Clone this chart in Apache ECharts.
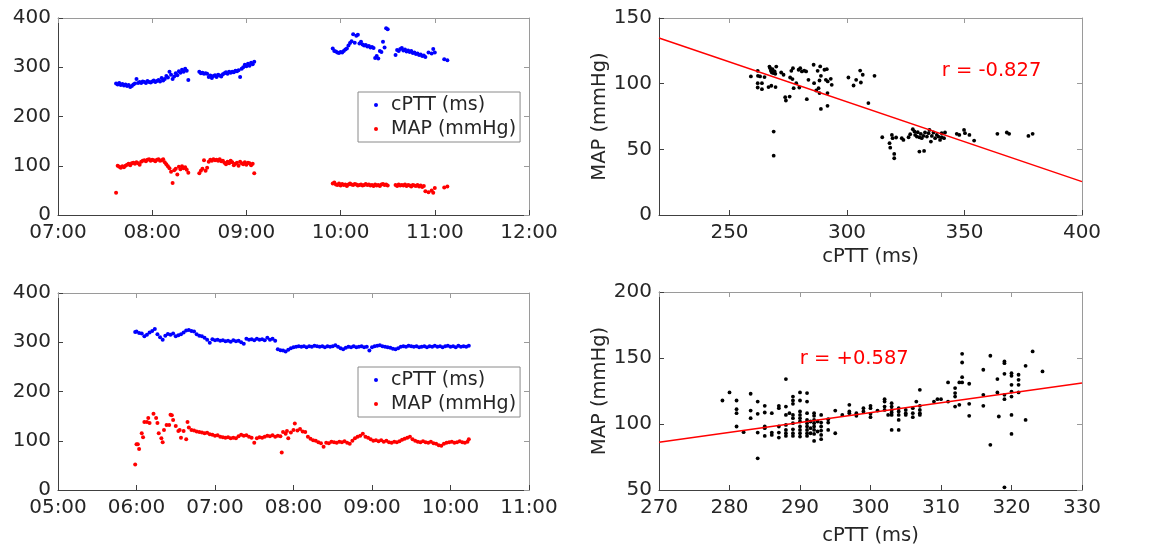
<!DOCTYPE html>
<html>
<head>
<meta charset="utf-8">
<script src="https://cdn.jsdelivr.net/npm/echarts@6/dist/echarts.min.js"></script>
<style>html,body{margin:0;padding:0;background:#fff;}#c{width:1166px;height:550px;}</style>
</head>
<body>
<div id="c"></div>
<script>
// ---------------- DATA ----------------
// Top-left panel: [time, cPTT (ms), MAP (mmHg)]
const tlSamples = [
 ['07:37',267,45],['07:38',265,100],['07:39',268,98],['07:40',264,96],['07:41',266,99],['07:42',263,97],
 ['07:43',265,100],['07:44',262,102],['07:45',264,104],['07:46',260,101],['07:47',262,105],['07:48',265,106],
 ['07:49',267,104],['07:50',276,107],['07:51',268,105],['07:52',270,102],['07:53',268,108],['07:54',271,110],
 ['07:55',270,111],['07:56',268,109],['07:57',272,112],['07:58',270,113],['07:59',269,110],['08:00',271,112],
 ['08:01',273,111],['08:02',270,109],['08:03',272,112],['08:04',274,113],['08:05',271,110],['08:06',278,111],
 ['08:07',273,113],['08:08',276,107],['08:09',282,103],['08:10',279,99],['08:11',291,95],['08:12',285,88],
 ['08:13',276,65],['08:14',281,91],['08:15',288,94],['08:16',284,82],['08:17',292,98],['08:18',289,93],
 ['08:19',295,99],['08:20',291,95],['08:21',297,97],['08:22',293,92],['08:23',274,86],
 ['08:30',291,85],['08:31',288,90],['08:32',289,94],['08:33',287,111],['08:34',288,90],['08:35',287,96],
 ['08:36',280,108],['08:37',283,112],['08:38',278,110],['08:39',282,113],['08:40',284,111],['08:41',280,112],
 ['08:42',285,110],['08:43',283,113],['08:44',281,109],['08:45',286,110],['08:46',288,106],['08:47',290,103],
 ['08:48',287,108],['08:49',291,105],['08:50',289,110],['08:51',291,107],['08:52',290,101],['08:53',293,104],
 ['08:54',292,106],['08:55',294,100],['08:56',280,108],['08:57',297,105],['08:58',300,103],['08:59',305,107],
 ['09:00',302,102],['09:01',307,106],['09:02',303,105],['09:03',309,101],['09:04',306,104],['09:05',311,85],
 ['09:55',338,64],['09:56',333,66],['09:57',332,62],['09:58',330,61],['09:59',329,64],['10:00',331,60],
 ['10:01',330,63],['10:02',333,61],['10:03',336,62],['10:04',338,59],['10:05',344,62],['10:06',349,64],
 ['10:07',353,62],['10:08',367,61],['10:09',350,63],['10:10',364,62],['10:11',366,60],['10:12',348,61],
 ['10:13',352,62],['10:14',346,60],['10:15',344,61],['10:16',345,63],['10:17',342,61],['10:18',343,62],
 ['10:19',340,60],['10:20',341,61],['10:21',339,59],['10:22',319,62],['10:23',323,60],['10:24',318,61],
 ['10:25',333,59],['10:26',331,62],['10:27',352,63],['10:28',340,61],['10:29',379,62],['10:30',377,60],
 ['10:35',325,61],['10:36',335,59],['10:37',333,62],['10:38',337,60],['10:39',339,61],['10:40',334,60],
 ['10:41',336,62],['10:42',332,59],['10:43',334,61],['10:44',331,60],['10:45',333,58],['10:46',329,61],
 ['10:47',330,60],['10:48',327,59],['10:49',328,61],['10:50',325,58],['10:51',326,60],['10:52',323,57],
 ['10:53',324,59],['10:54',321,48],['10:56',330,46],['10:58',328,50],['10:59',337,45],['11:00',330,55],
 ['11:06',316,56],['11:08',314,58]
];

// Bottom-left panel: cPTT [time, ms]
const blCptt = [
 ['05:59',321],['06:00',322],['06:02',319],['06:04',318],['06:06',312],['06:08',315],['06:10',320],['06:12',323],
 ['06:14',327],['06:16',316],['06:18',310],['06:20',305],['06:22',313],['06:24',317],['06:26',315],['06:28',318],
 ['06:30',312],['06:32',314],['06:34',316],['06:36',320],['06:38',324],['06:40',325],['06:42',323],['06:44',322],
 ['06:46',316],['06:48',313],['06:50',312],['06:52',309],['06:54',305],['06:56',299],['06:58',306],['07:00',304],
 ['07:02',305],['07:04',303],['07:06',304],['07:08',302],['07:10',303],['07:12',301],['07:14',304],['07:16',302],
 ['07:18',303],['07:20',300],['07:22',297],['07:24',307],['07:26',305],['07:28',306],['07:30',304],['07:32',307],
 ['07:34',305],['07:36',306],['07:38',304],['07:40',309],['07:42',305],['07:44',307],['07:46',303],['07:48',286],
 ['07:50',284],['07:52',283],['07:54',281],['07:56',285],['07:58',288],['08:00',290],['08:02',291],['08:04',292],
 ['08:06',291],['08:08',292],['08:10',290],['08:12',292],['08:14',291],['08:16',293],['08:18',292],['08:20',291],
 ['08:22',292],['08:24',290],['08:26',292],['08:28',291],['08:30',292],['08:32',294],['08:34',291],['08:36',288],
 ['08:38',286],['08:40',289],['08:42',291],['08:44',290],['08:46',292],['08:48',290],['08:50',291],['08:52',292],
 ['08:54',290],['08:56',291],['08:58',283],['09:00',290],['09:02',292],['09:04',293],['09:06',294],['09:08',292],
 ['09:10',291],['09:12',290],['09:14',289],['09:16',287],['09:18',286],['09:20',288],['09:22',291],['09:24',292],
 ['09:26',291],['09:28',293],['09:30',292],['09:32',291],['09:34',292],['09:36',290],['09:38',291],['09:40',292],
 ['09:42',290],['09:44',292],['09:46',291],['09:48',293],['09:50',291],['09:52',292],['09:54',290],['09:56',292],
 ['09:58',293],['10:00',291],['10:02',292],['10:04',290],['10:06',293],['10:08',291],['10:10',292],['10:12',291],
 ['10:14',293]
];
// Bottom-left panel: MAP [time, mmHg]
const blMap = [
 ['05:59',52],['06:00',93],['06:01',93],['06:02',83],['06:04',115],['06:05',107],['06:06',138],['06:08',138],
 ['06:09',146],['06:10',136],['06:13',155],['06:15',146],['06:16',136],['06:17',115],['06:19',105],['06:20',97],
 ['06:21',122],['06:23',132],['06:25',132],['06:26',153],['06:27',152],['06:28',142],['06:30',130],['06:32',120],
 ['06:33',122],['06:34',106],['06:36',120],['06:38',103],['06:39',138],['06:40',127],['06:42',122],['06:44',121],
 ['06:46',119],['06:48',118],['06:50',117],['06:52',115],['06:54',116],['06:56',113],['06:58',112],['07:00',110],
 ['07:02',111],['07:04',108],['07:06',107],['07:08',106],['07:10',107],['07:12',105],['07:14',106],['07:16',105],
 ['07:18',109],['07:20',112],['07:22',110],['07:24',111],['07:26',108],['07:28',106],['07:30',96],['07:32',105],
 ['07:34',107],['07:36',106],['07:38',108],['07:40',110],['07:42',109],['07:44',111],['07:46',108],['07:48',110],
 ['07:50',109],['07:51',76],['07:52',118],['07:54',114],['07:55',120],['07:56',105],['07:58',117],['08:00',122],
 ['08:01',135],['08:03',121],['08:05',124],['08:07',119],['08:09',118],['08:11',108],['08:13',104],['08:15',101],
 ['08:17',100],['08:19',97],['08:21',95],['08:23',88],['08:25',96],['08:27',95],['08:29',98],['08:31',97],
 ['08:33',96],['08:35',98],['08:37',97],['08:39',99],['08:41',96],['08:43',94],['08:45',100],['08:47',105],
 ['08:49',108],['08:51',110],['08:53',114],['08:55',108],['08:57',106],['08:59',103],['09:01',100],['09:03',101],
 ['09:05',99],['09:07',101],['09:09',98],['09:11',100],['09:13',97],['09:15',96],['09:17',98],['09:19',97],
 ['09:21',99],['09:23',102],['09:25',104],['09:27',106],['09:29',108],['09:31',103],['09:33',100],['09:35',98],
 ['09:37',97],['09:39',99],['09:41',97],['09:43',96],['09:45',98],['09:47',95],['09:49',94],['09:51',91],
 ['09:53',90],['09:55',94],['09:57',96],['09:59',97],['10:01',98],['10:03',96],['10:05',97],['10:07',99],
 ['10:09',97],['10:11',96],['10:13',98],['10:14',103]
];

// Top-right scatter: [cPTT, MAP]
const trPoints = [
 [259.1,105.5],[262,109.8],[262.1,106],[262,100.4],[262,97.1],[263.8,100.4],[263.8,95.8],[263,105.5],[264.9,105],
 [266.6,97.4],[267,113],[267.3,111.8],[267.6,109.8],[268,108.5],[268.3,111],[268.8,108],[269.2,109.3],[269.5,107.5],
 [267.8,98.4],[269.6,97.4],[268.8,63.5],[268.8,45.2],[269.9,113],[272,108.5],[273,106.8],[273.7,89.7],[274,87.2],
 [275.6,90.2],[275.8,104.7],[276.3,109.8],[277,111.8],[276.8,103.5],[277.3,96.6],[278.4,100.4],[279.4,110.6],
 [279.7,97.1],[280.1,111.8],[280.8,109.3],[281.8,110],[282.6,109.3],[282.9,88.2],[283.6,102.9],[285.8,114.4],
 [286,100.4],[286.9,94.8],[287.5,109.8],[287.9,96.6],[288.3,102.4],[288.6,113.1],[288.9,106],[288.3,92.8],
 [288.9,80.8],[290.4,110.6],[291,102.9],[291.4,111],[291.8,101.7],[291.7,92.8],[291.7,83.1],[293.1,103.7],
 [293.5,99.1],[300.6,104.7],[302.8,98.6],[303.9,102.9],[305.6,110],[305.9,100.9],[306.7,106.8],[309.1,85.2],
 [311.7,106],
 [315,59.2],[318.1,54.7],[318.4,51.3],[319.1,61],[319.4,58.5],[320.1,46.5],[320.1,43.2],[320.9,59],[323.3,58.5],
 [324,57.2],[326.2,59.2],[326.9,61.5],[328,65.3],[328.7,63.6],[329,61],[329.7,59.7],[330.1,63],[330.8,59.2],
 [330.8,48.3],[331.4,61.8],[331.8,58.5],[332.5,60.2],[332.8,48.8],[333.2,62.8],[334,59.7],[334.7,62.3],
 [335.1,64.8],[335.7,55.9],[336.1,60.2],[336.8,62.8],[337.5,58.5],[338.2,61],[338.9,59.7],[339.6,57.2],
 [340.3,62.3],[340.3,59.2],[341.3,58.5],[341.7,62.8],[346.7,61.8],[347.8,61],[349.8,64.8],[350.2,62.3],
 [352.1,61],[354.1,56.7],[364,61.8],[368,62.8],[369,61.8],[377.2,60.2],[379,61.8]
];
const trFit = [[220,134.8],[400,25.4]];
const trR = {text:'r = -0.827', at:[361.5,109.5]};

// Bottom-right scatter: [cPTT, MAP]
const brPoints = [
 [279,117.8],[280,123.9],[281,117.8],[281,111.2],[281,108.2],[281,98.1],[282,93.8],[283,122.9],[283,110.2],
 [283,104.4],[284,117],[284,107.7],[284,93.5],[284,74],[285,113.8],[285,108.7],[285,98.1],[285,96.8],[285,91],
 [286,108.2],[286,93.5],[286,91.7],[287,113.8],[287,112],[287,98.1],[287,93.5],[287,89.7],[288,134],[288,113.2],
 [288,106.9],[288,99.3],[288,95.5],[288,93],[288,91],[288.5,108.2],[289,120.8],[289,117.8],[289,115.3],[289,106.9],
 [289,104.4],[289,100.6],[289,96],[289,93],[289,91],[290,123.9],[290,117.8],[290,109.5],[290,106.9],[290,104.4],
 [290,101.9],[290,98.1],[290,95.5],[290,93],[290,90.5],[291,123.4],[291,117],[291,108.2],[291,103.1],[291,100.6],
 [291,98.1],[291,95.5],[291,93],[291,91],[291.5,101.9],[291.5,96.8],[291.5,93],[292,108.2],[292,106.2],[292,103.1],
 [292,100.6],[292,98.1],[292,95.5],[292,92.5],[292,87.2],[292.5,101.9],[292.5,94.3],[293,106.9],[293,101.1],
 [293,98.1],[293,95],[293,91.7],[293,88.5],[294,103.6],[294,101.1],[294,95.5],[295,110.2],[295,93],[296,106.9],
 [297,114.5],[297,109.5],[297,108.2],[298,108.2],[298,106.2],[299,112],[299,109.5],[300,113.8],[300,112],
 [300,107.7],[300,105.2],[301,110.2],[302,118.8],[302,117],[302,113.2],[302,110.7],[302.5,106.9],[303,115.8],
 [303,113.2],[303,110.7],[303,108.7],[303,106.9],[303,95.5],[304,112],[304,109.5],[304,106.9],[304,103.1],
 [304,95.5],[305,110.7],[305,108.2],[305,106.9],[306,112],[306,108.2],[306,105.2],[306.5,117],[307,125.9],
 [307,113.8],[307,110.7],[307,108.2],[307,106.9],[309,117],[309.5,118.8],[310,118.8],[311,131.5],[311,117],
 [312,127.2],[312,123.4],[312,120.8],[312,113.2],[312.6,131.5],[312.6,114.5],[313,153.2],[313,146.6],[313,135.5],
 [313,131.5],[314,130.5],[314,115.3],[314,106.2],[316,141.1],[316,122.1],[316,113.8],[317,151.7],[317,84.2],
 [318,134],[318,123.9],[318.2,105.7],[319,147.4],[319,146.1],[319,138],[319,122.1],[319,118.8],[319,52],
 [320,138.5],[320,136.5],[320,129.7],[320,124.6],[320,120.8],[320,106.9],[320,92.5],[321,137.3],[321,133.5],
 [321,129.7],[321,123.9],[322,144.1],[322,103.1],[323,155],[324.4,139.8]
];
const brFit = [[270,86.2],[330,131]];
const brR = {text:'r = +0.587', at:[297.7,149.2]};

const seriesNames = ['cPTT (ms)', 'MAP (mmHg)'];
const xLabelCPTT = 'cPTT (ms)';
const yLabelMAP = 'MAP (mmHg)';
const trTicks = [250, 300, 350, 400];

// ---------------- CHART ----------------
const FONT = 'DejaVu Sans';
const TXT = '#262626';
const toMin = s => { const p = s.split(':'); return (+p[0]) * 60 + (+p[1]); };
const hhmm = v => String(Math.floor(v / 60)).padStart(2, '0') + ':' + String(v % 60).padStart(2, '0');

const grids = [
  {left: 58, top: 18, width: 471, height: 197},
  {left: 659, top: 18, width: 423, height: 197},
  {left: 58, top: 293, width: 471, height: 197},
  {left: 659, top: 292, width: 423, height: 198}
];

function axisPair(kind, gridIndex, min, max, interval, formatter, name, nameGap) {
  const main = {
    gridIndex, type: 'value', min, max, interval,
    position: kind === 'x' ? 'bottom' : 'left',
    axisLine: {show: true, onZero: false, lineStyle: {color: '#404040', width: 1}},
    axisTick: {show: true, inside: true, length: 5, lineStyle: {color: '#404040'}},
    axisLabel: {show: true, color: TXT, fontSize: 20, fontFamily: FONT, margin: kind === 'x' ? 8 : 7,
      formatter: formatter, showMinLabel: true, showMaxLabel: true, hideOverlap: false},
    splitLine: {show: false}
  };
  if (name) {
    main.name = name;
    main.nameLocation = 'middle';
    main.nameGap = nameGap;
    main.nameTextStyle = {color: TXT, fontSize: 19.5, fontFamily: FONT};
  }
  const sec = {
    gridIndex, type: 'value', min, max, interval,
    position: kind === 'x' ? 'top' : 'right',
    axisLine: {show: true, onZero: false, lineStyle: {color: '#9a9a9a', width: 1}},
    axisTick: {show: true, inside: true, length: 5, lineStyle: {color: '#9a9a9a'}},
    axisLabel: {show: false},
    splitLine: {show: false}
  };
  return [main, sec];
}

const xAxes = [].concat(
  axisPair('x', 0, 420, 720, 60, hhmm),
  axisPair('x', 1, 220, 400, 50, null, xLabelCPTT, 32),
  axisPair('x', 2, 300, 660, 60, hhmm),
  axisPair('x', 3, 270, 330, 10, null, xLabelCPTT, 36)
);
const yAxes = [].concat(
  axisPair('y', 0, 0, 400, 100),
  axisPair('y', 1, 0, 150, 50, null, yLabelMAP, 42),
  axisPair('y', 2, 0, 400, 100),
  axisPair('y', 3, 50, 200, 50, null, yLabelMAP, 42)
);

// Top-right x axis: min 220 is not a multiple of 50, so give the ticks explicitly
[2, 3].forEach(i => {
  delete xAxes[i].interval;
  xAxes[i].axisTick.customValues = trTicks;
  if (xAxes[i].axisLabel.show) xAxes[i].axisLabel.customValues = trTicks;
});

const dot = 4;
const solid = c => ({color: c, opacity: 1});
const series = [
  {name: seriesNames[0], type: 'scatter', xAxisIndex: 0, yAxisIndex: 0, symbolSize: dot,
   itemStyle: solid('#0000ff'), data: tlSamples.map(r => [toMin(r[0]), r[1]])},
  {name: seriesNames[1], type: 'scatter', xAxisIndex: 0, yAxisIndex: 0, symbolSize: dot,
   itemStyle: solid('#ff0000'), data: tlSamples.map(r => [toMin(r[0]), r[2]])},
  {name: seriesNames[0], type: 'scatter', xAxisIndex: 4, yAxisIndex: 4, symbolSize: dot,
   itemStyle: solid('#0000ff'), data: blCptt.map(r => [toMin(r[0]), r[1]])},
  {name: seriesNames[1], type: 'scatter', xAxisIndex: 4, yAxisIndex: 4, symbolSize: dot,
   itemStyle: solid('#ff0000'), data: blMap.map(r => [toMin(r[0]), r[1]])},
  {type: 'scatter', xAxisIndex: 2, yAxisIndex: 2, symbolSize: 3.8, itemStyle: solid('#000000'), data: trPoints},
  {type: 'line', xAxisIndex: 2, yAxisIndex: 2, symbol: 'none', lineStyle: {color: '#ff0000', width: 1.5, opacity: 1}, data: trFit, z: 3},
  {type: 'scatter', xAxisIndex: 2, yAxisIndex: 2, symbolSize: 0, itemStyle: solid('#ff0000'), data: [trR.at],
   label: {show: true, position: 'inside', formatter: trR.text, color: '#ff0000', opacity: 1, fontSize: 19.5, fontFamily: FONT}},
  {type: 'scatter', xAxisIndex: 6, yAxisIndex: 6, symbolSize: 3.8, itemStyle: solid('#000000'), data: brPoints},
  {type: 'line', xAxisIndex: 6, yAxisIndex: 6, symbol: 'none', lineStyle: {color: '#ff0000', width: 1.5, opacity: 1}, data: brFit, z: 3},
  {type: 'scatter', xAxisIndex: 6, yAxisIndex: 6, symbolSize: 0, itemStyle: solid('#ff0000'), data: [brR.at],
   label: {show: true, position: 'inside', formatter: brR.text, color: '#ff0000', opacity: 1, fontSize: 19.5, fontFamily: FONT}}
];

function legendAt(top) {
  return {
    data: seriesNames, left: 358, top: top, orient: 'vertical', icon: 'circle',
    itemWidth: 4, itemHeight: 4, itemGap: 2, padding: [2, 4, 2, 16],
    borderColor: '#8a8a8a', borderWidth: 1, borderRadius: 0, backgroundColor: '#ffffff',
    selectedMode: false,
    textStyle: {color: TXT, fontSize: 19, fontFamily: FONT, lineHeight: 22, padding: [0, 0, 0, 8]}
  };
}

const chart = echarts.init(document.getElementById('c'), null, {renderer: 'canvas'});
chart.setOption({
  animation: false,
  backgroundColor: '#ffffff',
  grid: grids,
  xAxis: xAxes,
  yAxis: yAxes,
  legend: [legendAt(92), legendAt(367)],
  series: series
});
</script>
</body>
</html>
